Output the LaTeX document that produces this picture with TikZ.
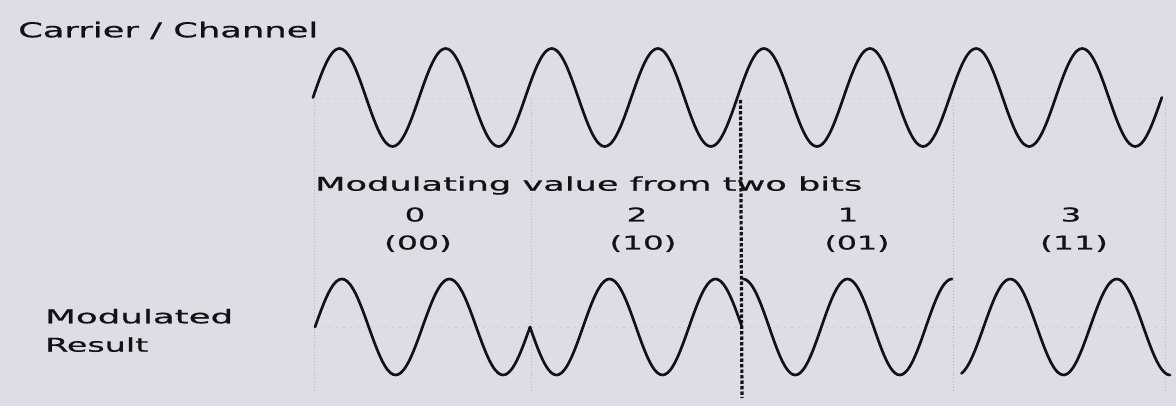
\documentclass[tikz,border=0pt]{standalone}
\usepackage{fontspec}
\setmainfont{DejaVu Sans}
\newfontfamily\lblfont{DejaVu Sans}[FakeBold=0.6]
\definecolor{paper}{RGB}{221,221,229}
\definecolor{ink}{RGB}{18,18,22}
\newcommand\wtext[3]{\resizebox{#1pt}{\height}{\lblfont\fontsize{#2}{#2}\selectfont #3}}
\newcommand\sdigit[1]{\scalebox{1.7}[1]{\lblfont\fontsize{19}{19}\selectfont #1}}
\begin{document}
\begin{tikzpicture}[x=1pt,y=-1pt,
  wave/.style={ink, line width=2.7pt, line join=round, line cap=round},
  guide/.style={black!45, line width=0.9pt, dotted, opacity=0.45},
  axisline/.style={black!40, line width=0.8pt, dash pattern=on 2pt off 5pt, opacity=0.25},
  marker/.style={ink, line width=3.2pt, dash pattern=on 3.5pt off 2pt},
  lbl/.style={inner sep=0pt, text=ink}]
\fill[paper] (0,0) rectangle (1176,406);
\useasboundingbox (0,0) rectangle (1176,406);

% faint guide lines
\foreach \gx/\gn in {314/g0,531/g1,953/g3,1165/g4}{
  \coordinate (\gn t) at (\gx,100);
  \coordinate (\gn b) at (\gx,392);
  \draw[guide] (\gn t) -- (\gn b);
}
\coordinate (a1l) at (313,98); \coordinate (a1r) at (1165,98);
\coordinate (a2l) at (315,327); \coordinate (a2r) at (1170,327);
\draw[axisline] (a1l) -- (a1r);
\draw[axisline] (a2l) -- (a2r);

% carrier
\draw[wave] plot[variable=\t, domain=0:2880, samples=321, smooth]
  ({313+\t/360*106.1},{97.5-49*sin(\t)});

% modulated result
\draw[wave] plot[variable=\t, domain=0:720, samples=81, smooth]
  ({315+\t/360*107.5},{327-48*sin(\t)});
\draw[wave] plot[variable=\t, domain=0:720, samples=81, smooth]
  ({530+\t/360*106},{327+48*sin(\t)});
\draw[wave] plot[variable=\t, domain=0:720, samples=81, smooth]
  ({743+\t/360*104.5},{327-48*cos(\t)});
\draw[wave] plot[variable=\t, domain=15:720, samples=80, smooth]
  ({957+\t/360*106.5},{327+48*cos(\t)});

% labels
\node[lbl, anchor=base west] (carrier) at (18,37.3) {\wtext{300}{20.5}{Carrier / Channel}};
\node[lbl, anchor=base west] (modval) at (315,190.7) {\wtext{547}{19}{Modulating value from two bits}};
\node[lbl, anchor=base] (v0) at (415,221.5) {\sdigit{0}};
\node[lbl, anchor=base] (v2) at (637,221.5) {\sdigit{2}};
\node[lbl, anchor=base] (v1) at (848,221.5) {\sdigit{1}};
\node[lbl, anchor=base] (v3) at (1071,221.5) {\sdigit{3}};
\node[lbl, anchor=base] (b0) at (418,249.5) {\wtext{68}{19}{(00)}};
\node[lbl, anchor=base] (b2) at (643,249.5) {\wtext{67}{19}{(10)}};
\node[lbl, anchor=base] (b1) at (857,249.5) {\wtext{65}{19}{(01)}};
\node[lbl, anchor=base] (b3) at (1074,249.5) {\wtext{68}{19}{(11)}};
\node[lbl, anchor=base west] (modres1) at (45,323.3) {\wtext{188}{19}{Modulated}};
\node[lbl, anchor=base west] (modres2) at (45,351.7) {\wtext{103}{19}{Result}};

% thick dashed marker
\coordinate (mt) at (740.5,100);
\coordinate (mb) at (742,398);
\draw[marker] (mt) -- (mb);
\end{tikzpicture}
\end{document}
